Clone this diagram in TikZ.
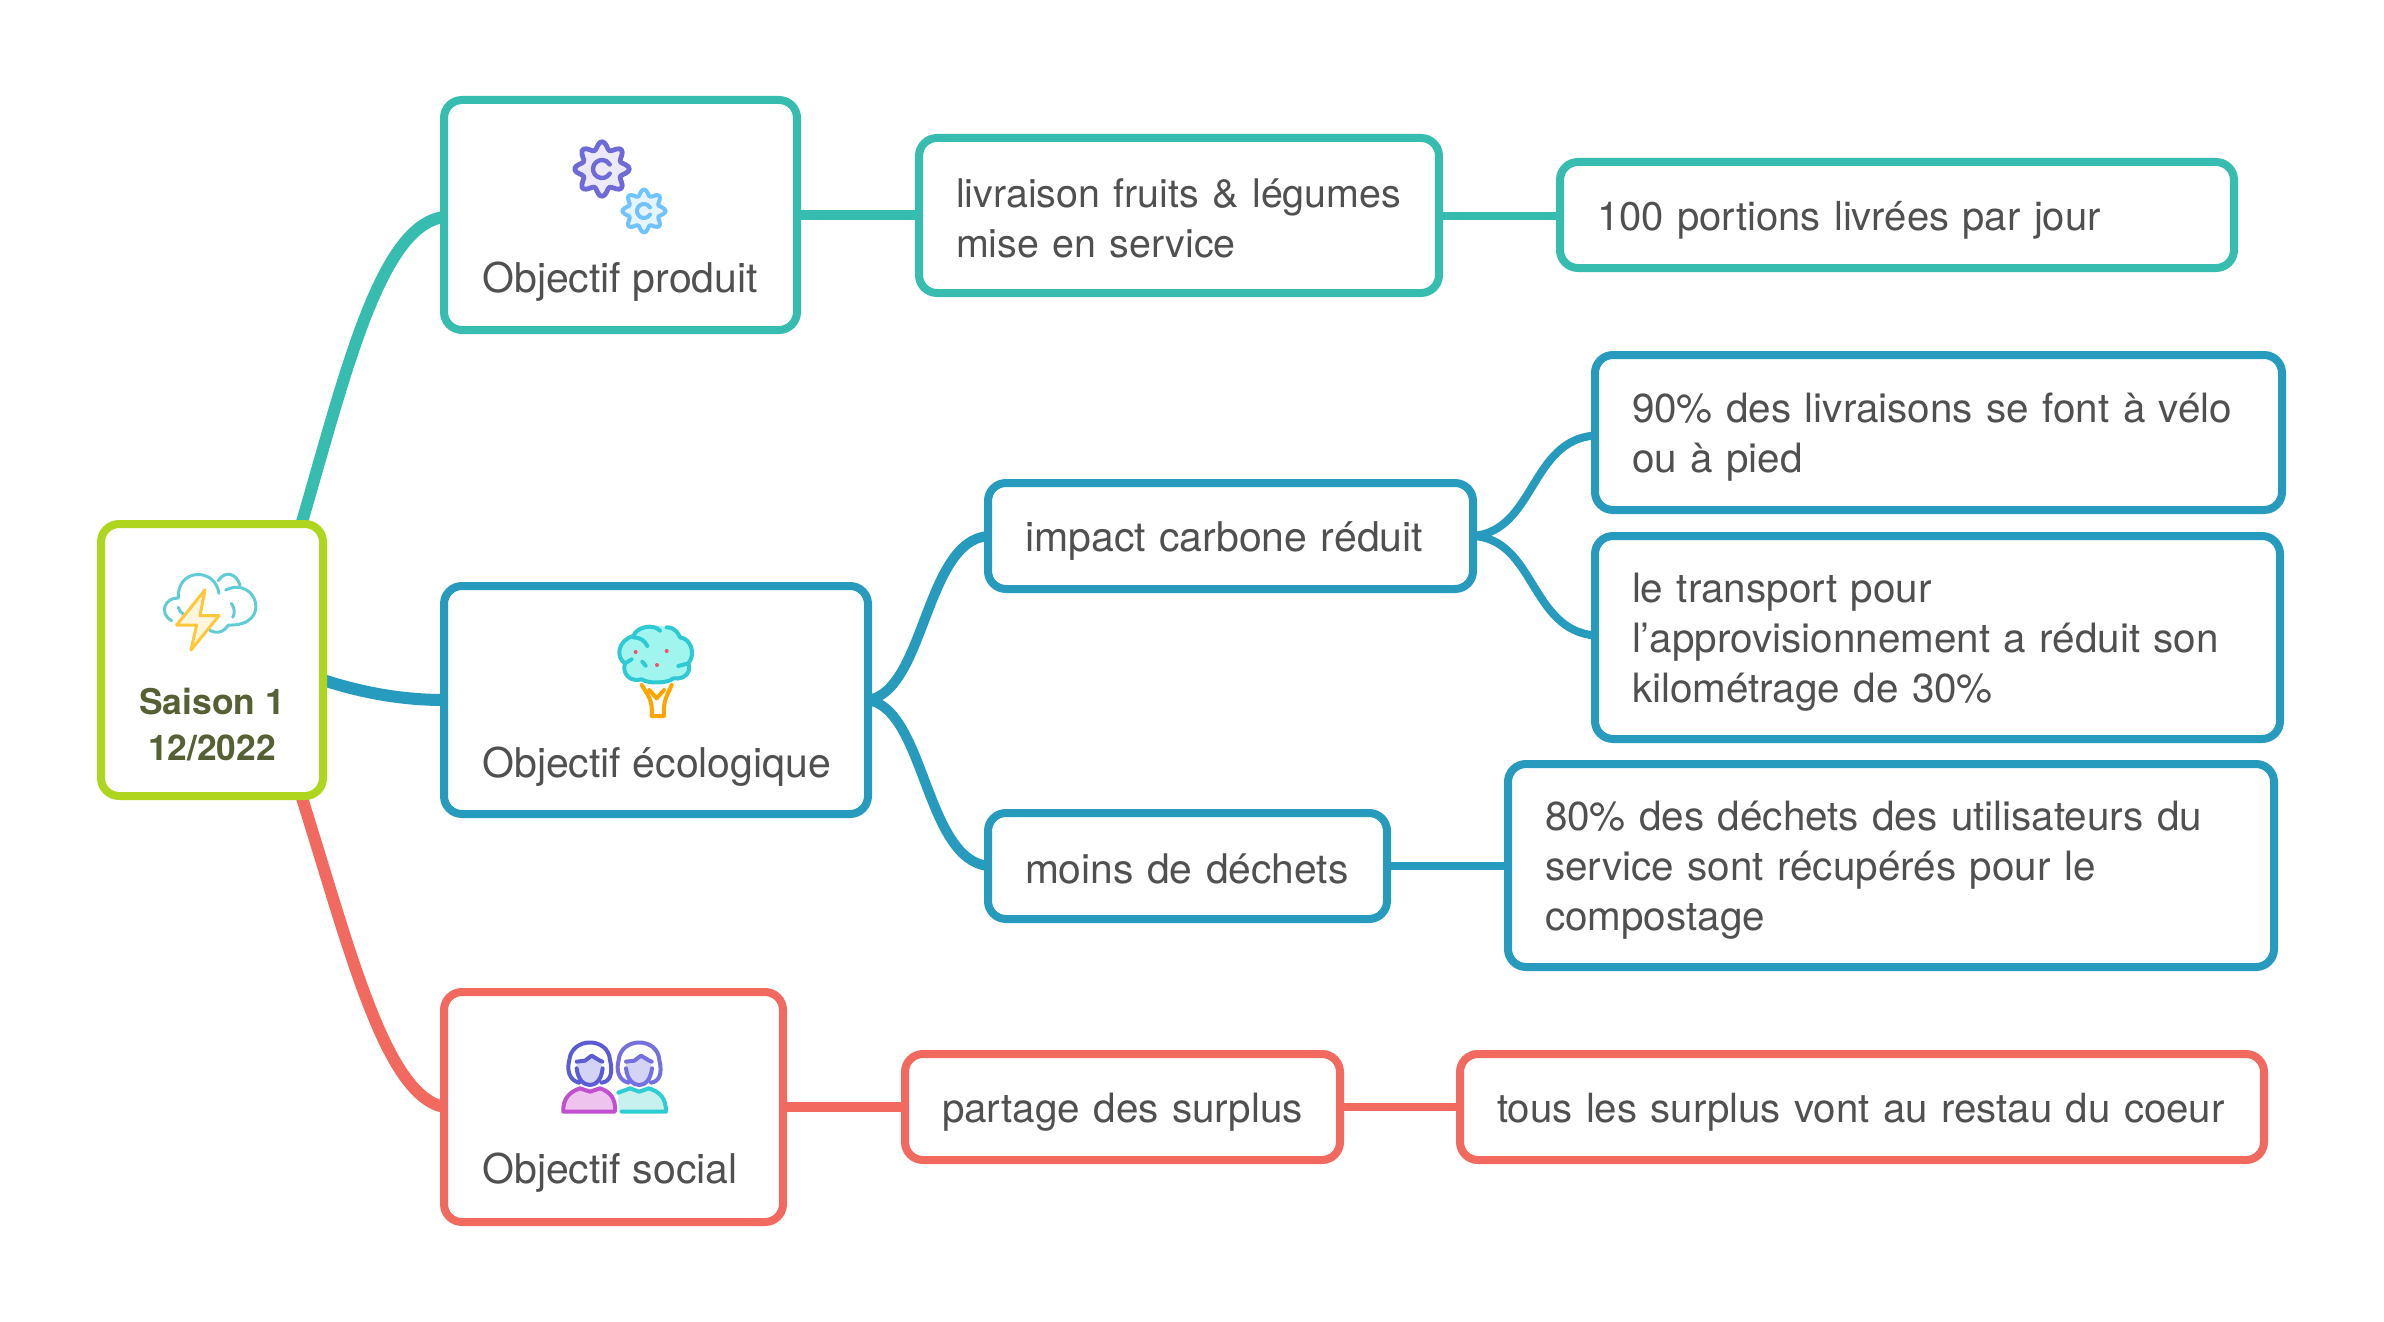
\documentclass[tikz,border=0pt]{standalone}
\usepackage{fontspec}
\setmainfont{TeX Gyre Heros}
\usetikzlibrary{backgrounds,calc}
\definecolor{cteal}{HTML}{36BDB0}
\definecolor{cblue}{HTML}{269BBD}
\definecolor{cred}{HTML}{F26A5F}
\definecolor{cgreen}{HTML}{AED61F}
\definecolor{ctext}{HTML}{505050}
\definecolor{croot}{HTML}{556035}
\tikzset{
 boxs/.style={rounded corners=9pt,line width=4pt,fill=white,inner xsep=18.5pt,inner ysep=0pt,outer sep=0pt,align=left,text=ctext,font=\fontsize{20.2}{25}\selectfont},
 lab/.style={anchor=base west,inner sep=0pt,text=ctext,font=\fontsize{20.5}{25}\selectfont},
 rootlab/.style={inner sep=0pt,align=center,text=croot,font=\fontsize{17.7}{23}\selectfont\bfseries},
 conn/.style={line width=5pt,line cap=butt},
 connleaf/.style={line width=4pt,line cap=butt},
 connthick/.style={line width=6pt,line cap=butt},
 icon/.style={line cap=round,line join=round}
}
\newcommand\bxn[7]{%
 \pgfmathsetmacro\bw{(#5-#3-8)*0.5}%
 \pgfmathsetmacro\bh{(#6-#4-8)*0.5}%
 \pgfmathsetmacro\bt{\bw-37}%
 \node[boxs,draw=#1,minimum width=\bw pt,minimum height=\bh pt,text width=\bt pt] (#2) at ({(#3+#5)/2},{(#4+#6)/2}) {\rule{0pt}{19.5pt}#7\rule[-2.5pt]{0pt}{2.5pt}};}
\begin{document}
\begin{tikzpicture}[x=0.5pt,y=-0.5pt]
\useasboundingbox (0,0) rectangle (2384,1322);
\bxn{cgreen}{root}{97}{520}{327}{800}{}
\bxn{cteal}{prod}{440}{96}{801}{334}{}
\bxn{cteal}{livr}{915}{134}{1443}{297}{\fontsize{19.7}{25}\selectfont\mbox{livraison fruits \& légumes}\\mise en service}
\bxn{cteal}{port}{1556}{158}{2238}{272}{\fontsize{20}{25}\selectfont 100 portions livrées par jour}
\bxn{cblue}{eco}{440}{582}{872}{818}{}
\bxn{cblue}{impact}{984}{479}{1477}{593}{\fontsize{20.5}{25}\selectfont impact carbone réduit}
\bxn{cblue}{velo}{1591}{351}{2286}{514}{90\% des livraisons se font à vélo\\ou à pied}
\bxn{cblue}{transp}{1591}{532}{2284}{743}{le transport pour\\l’approvisionnement a réduit son\\kilométrage de 30\%}
\bxn{cblue}{moins}{984}{809}{1391}{923}{\fontsize{20.4}{25}\selectfont moins de déchets}
\bxn{cblue}{compost}{1504}{760}{2278}{971}{80\% des déchets des utilisateurs du\\service sont récupérés pour le\\compostage}
\bxn{cred}{social}{440}{988}{787}{1226}{}
\bxn{cred}{part}{901}{1050}{1344}{1164}{partage des surplus}
\bxn{cred}{tous}{1456}{1050}{2268}{1164}{\fontsize{20.1}{25}\selectfont tous les surplus vont au restau du coeur}
\node[rootlab] (rootl) at (212,725) {Saison 1\\12/2022};
\node[lab] (prodl) at (482,292) {Objectif produit};
\node[lab] (ecol) at (482,777) {Objectif écologique};
\node[lab] (sociall) at (482,1183) {Objectif social};
\coordinate (ra) at (302,522);
\coordinate (rb) at (323,680);
\coordinate (rc) at (302,798);
\begin{scope}[on background layer]
\fill[white] (0,0) rectangle (2384,1322);
\draw[connthick,cteal] (ra) .. controls (345,375) and (380,225) .. ($(prod.west)+(0,2)$);
\draw[connthick,cblue] (rb) .. controls (360,692) and (400,700) .. (eco.west);
\draw[connthick,cred] (rc) .. controls (350,950) and (385,1095) .. (social.west);
\draw[conn,cteal] (prod.east) -- (prod.east -| livr.west);
\draw[connleaf,cteal] (livr.east) -- (livr.east -| port.west);
\draw[conn,cblue] (eco.east) .. controls (925,691) and (925,541) .. (impact.west);
\draw[conn,cblue] (eco.east) .. controls (925,709) and (925,859) .. (moins.west);
\draw[connleaf,cblue] (impact.east) .. controls (1535,531) and (1530,440) .. ($(velo.west)+(0,3)$);
\draw[connleaf,cblue] (impact.east) .. controls (1535,539) and (1530,630) .. ($(transp.west)+(0,-2)$);
\draw[connleaf,cblue] (moins.east) -- (moins.east -| compost.west);
\draw[conn,cred] (social.east) -- (social.east -| part.west);
\draw[connleaf,cred] (part.east) -- (part.east -| tous.west);
\end{scope}
% cloud
\begin{scope}[shift={(90,510)},scale=1/3,icon,line width=1.5pt]
\draw[color={rgb,255:red,98;green,204;blue,214}]
 (245,332) .. controls (205,310) and (225,262) .. (265,264) .. controls (260,175) and (375,170) .. (387,250)
 (385,212) .. controls (405,180) and (440,190) .. (450,226)
 (407,240) .. controls (500,195) and (550,350) .. (415,345) .. controls (400,370) and (375,372) .. (355,358)
 (424,280) .. controls (435,295) and (435,310) .. (428,322)
 (265,292) .. controls (268,302) and (272,308) .. (280,312);
\draw[draw={rgb,255:red,255;green,200;blue,58},fill={rgb,255:red,255;green,246;blue,224}]
 (345,240) -- (260,345) -- (320,345) -- (303,420) -- (387,317) -- (330,317) -- cycle;
\end{scope}
% gears
\begin{scope}[icon]
\definecolor{ga}{HTML}{6E6AD8}\definecolor{gaf}{HTML}{ECE9FA}
\definecolor{gb}{HTML}{6FC3FF}\definecolor{gbf}{HTML}{E6F5FF}
\draw[line width=2.4pt,draw=ga,fill=gaf] plot[smooth cycle,samples=73,domain=0:355] ({602+(23.5+3.8*cos(8*\x))*cos(\x)},{169+(23.5+3.8*cos(8*\x))*sin(\x)});
\draw[line width=2.2pt,ga] (609.8,173.5) arc[start angle=30,end angle=330,radius=9];
\draw[line width=2pt,draw=gb,fill=gbf] plot[smooth cycle,samples=73,domain=0:355] ({644+(18.5+3*cos(8*\x))*cos(\x)},{211+(18.5+3*cos(8*\x))*sin(\x)});
\draw[line width=2pt,gb] (650,214.5) arc[start angle=30,end angle=330,radius=7];
\end{scope}
% tree
\begin{scope}[shift={(590,610)},scale=1/3,icon,line width=2pt]
\draw[color={rgb,255:red,255;green,165;blue,0},line join=round]
 (155,225) .. controls (170,250) and (190,270) .. (185,318) -- (222,318) .. controls (218,270) and (235,250) .. (245,225)
 (178,240) -- (200,265) -- (222,240);
\fill[fill={rgb,255:red,160;green,245;blue,239}] (130,78) .. controls (140,50) and (190,40) .. (230,52) .. controls (255,52) and (265,70) .. (270,82) .. controls (300,85) and (320,130) .. (295,160) .. controls (305,185) and (285,210) .. (250,205) .. controls (235,220) and (175,222) .. (155,208) .. controls (120,218) and (95,190) .. (105,160) .. controls (75,140) and (85,90) .. (130,78);
\draw[color={rgb,255:red,47;green,201;blue,212}]
 (210,62) .. controls (190,40) and (140,50) .. (130,78) .. controls (85,90) and (75,140) .. (105,160) .. controls (95,190) and (120,218) .. (155,208) .. controls (175,222) and (235,220) .. (250,205) .. controls (285,210) and (305,185) .. (295,160) .. controls (320,130) and (300,85) .. (270,82) .. controls (265,70) and (255,52) .. (230,52)
 (130,82) .. controls (150,82) and (165,92) .. (172,108)
 (105,160) -- (125,148)
 (157,155) -- (167,167)
 (265,168) -- (295,160);
\fill[fill={rgb,255:red,244;green,81;blue,108}] (137,126) circle[radius=6] (230,123) circle[radius=6] (201,165) circle[radius=6];
\end{scope}
% people
\begin{scope}[shift={(550,1030)},scale=1/3,icon,line width=2pt]
\definecolor{pa}{HTML}{5B5BD6}\definecolor{pb}{HTML}{7470DF}\definecolor{pf}{HTML}{D3D3F5}
\definecolor{ba}{HTML}{C050D0}\definecolor{baf}{HTML}{EEC4EE}\definecolor{bb}{HTML}{2DCDD3}\definecolor{bbf}{HTML}{C6F1EF}
\fill[bbf] (205,188) -- (240,175) -- (268,185) -- (296,175) .. controls (330,185) and (348,205) .. (348,245) -- (205,245) -- cycle;
\draw[bb] (205,188) -- (240,175) -- (268,185) -- (296,175) .. controls (330,185) and (348,205) .. (348,245) -- (215,245);
\fill[pf] (228,92) -- (255,90) -- (273,75) -- (298,92) -- (306,115) .. controls (302,150) and (285,165) .. (268,165) .. controls (250,165) and (232,150) .. (228,115) -- cycle;
\draw[pb] (235,158) .. controls (205,150) and (198,120) .. (206,90) .. controls (213,20) and (323,20) .. (328,90) .. controls (338,130) and (328,155) .. (303,158)
 (228,95) -- (253,92) -- (273,77) -- (298,92) -- (305,95)
 (228,115) .. controls (232,150) and (250,165) .. (268,165) .. controls (285,165) and (302,150) .. (306,115);
\draw[ba,fill=baf] (40,245) -- (195,245) .. controls (198,205) and (180,185) .. (150,175) -- (120,185) -- (90,175) .. controls (60,185) and (38,205) .. (40,245) -- cycle;
\fill[pf] (80,92) -- (107,90) -- (125,75) -- (150,92) -- (158,115) .. controls (154,150) and (137,165) .. (120,165) .. controls (102,165) and (84,150) .. (80,115) -- cycle;
\draw[pa] (87,158) .. controls (57,150) and (50,120) .. (58,90) .. controls (65,20) and (175,20) .. (180,90) .. controls (190,130) and (180,155) .. (155,158)
 (80,95) -- (105,92) -- (125,77) -- (150,92) -- (157,95)
 (80,115) .. controls (84,150) and (102,165) .. (120,165) .. controls (137,165) and (154,150) .. (158,115);
\end{scope}
\end{tikzpicture}
\end{document}
